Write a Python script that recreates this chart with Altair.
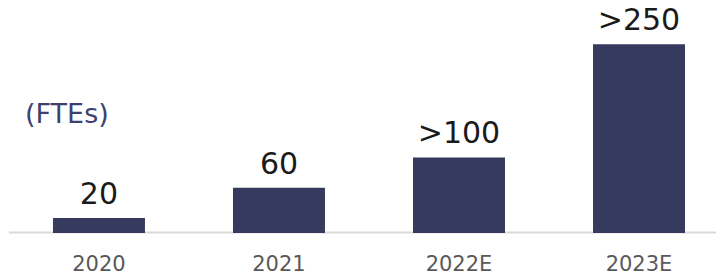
import altair as alt
import pandas as pd

years = ["2020", "2021", "2022E", "2023E"]
ftes = [20, 60, 100, 250]
labels = ["20", "60", ">100", ">250"]
unit_label = ["(FTEs)"]
title_text = ["FUERTE PROCESO DE CONTRATACIÓN"]

df = pd.DataFrame({"year": years, "ftes": ftes, "label": labels})

FONT = "DejaVu Sans"
BAR = "#363a5e"

xenc = alt.X(
    "year:N",
    sort=years,
    scale=alt.Scale(paddingInner=0.489, paddingOuter=0.211, align=0.592),
    axis=alt.Axis(
        title=None,
        labelAngle=0,
        labelFontSize=21,
        labelFont=FONT,
        labelColor="#595959",
        domain=False,
        ticks=False,
        labelPadding=20,
        grid=False,
    ),
)
yscale = alt.Scale(domain=[0, 298])

base = alt.Chart(df).encode(x=xenc)

bars = base.mark_bar(color=BAR).encode(
    y=alt.Y("ftes:Q", scale=yscale, axis=None)
)

vals = base.mark_text(
    dy=-14, fontSize=30, font=FONT, color="#1a1a1a", baseline="alphabetic", align="center"
).encode(y=alt.Y("ftes:Q", scale=yscale, axis=None), text="label:N")

baseline_rule = alt.Chart(pd.DataFrame({"t": [0]})).mark_rule(
    color="#d9d9d9", strokeWidth=2
).encode(x=alt.value(1), x2=alt.value(716), y=alt.value(224.5))

fte = alt.Chart(pd.DataFrame({"t": unit_label})).mark_text(
    fontSize=27, font=FONT, color="#3d4170", align="left", baseline="alphabetic"
).encode(x=alt.value(17), y=alt.value(115), text="t:N")

ttl = alt.Chart(pd.DataFrame({"t": title_text})).mark_text(
    fontSize=26, font=FONT, fontWeight="bold", color="#363a5e", align="right", baseline="alphabetic"
).encode(x=alt.value(544), y=alt.value(-5), text="t:N")

chart = (
    alt.layer(baseline_rule, bars, vals, fte, ttl)
    .properties(
        width=708,
        height=225,
        padding={"left": 0, "top": 0, "right": 0, "bottom": 45},
        autosize=alt.AutoSizeParams(type="none"),
    )
    .configure_view(stroke=None)
)

chart.save("out.html", embed_options={"renderer": "svg", "actions": False})
